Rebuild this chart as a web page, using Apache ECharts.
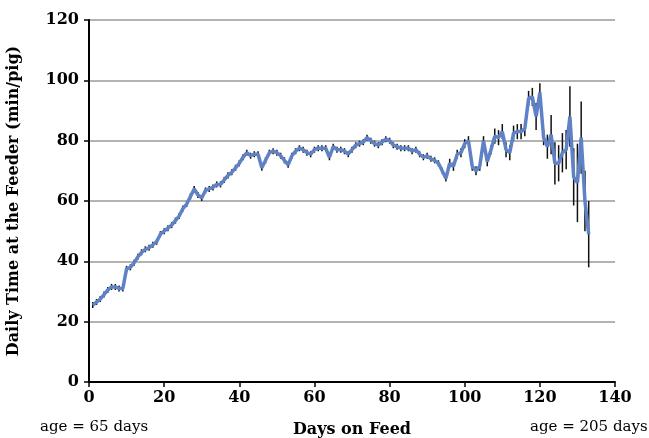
<!DOCTYPE html>
<html>
<head>
<meta charset="utf-8">
<script src="https://cdn.jsdelivr.net/npm/echarts@6/dist/echarts.min.js"></script>
<style>
  html, body { margin: 0; padding: 0; background: #fff; }
  #chart { width: 649px; height: 438px; }
</style>
</head>
<body>
<div id="chart"></div>
<script>
// Mean daily time at the feeder per pig, one value per day on feed (days 1-133)
const feederMinutes = [
  25.5, 26.5, 27.5, 29, 30.5, 31.5, 31.5, 31, 31, 37.5,
  38, 39.5, 41.5, 43, 44, 44.5, 45.5, 46.5, 49, 50,
  51, 52, 53.5, 55, 57.5, 59, 61.5, 64, 62, 61,
  63.5, 64, 64.5, 65.5, 65.5, 67, 68.5, 69.5, 71, 72.5,
  74.5, 76, 75, 75.5, 75.5, 71, 73.5, 76, 76.5, 76,
  75, 73.5, 72, 75, 76.5, 77.5, 77, 76, 75.5, 77,
  77.5, 77.5, 77.5, 74.5, 78, 77, 77, 76.5, 75.5, 77,
  78.5, 79, 79.5, 81, 80, 79, 78.5, 79.5, 80.5, 80,
  78.5, 78, 77.5, 77.5, 77.5, 76.5, 77, 75.5, 74.5, 75,
  74, 73.5, 72.5, 70, 67.5, 72.5, 71.5, 75.5, 76, 79,
  80, 71.5, 70, 71.5, 80, 73, 77, 81.5, 81, 83,
  77, 76, 82.5, 83, 83, 84, 94, 94.5, 88, 96,
  81, 78, 82, 72.5, 72.5, 76, 77, 88, 68, 66,
  81, 60, 49
];

// Standard error of each daily mean (half-length of the error bar)
const feederError = [
  1, 1, 1, 1, 1, 1, 1, 1, 1, 1,
  1, 1, 1, 1, 1, 1, 1, 1, 1, 1,
  1, 1, 1, 1, 1, 1, 1, 1, 1, 1,
  1, 1, 1, 1, 1, 1, 1, 1, 1, 1,
  1, 1, 1, 1, 1, 1, 1, 1, 1, 1,
  1, 1, 1, 1, 1, 1, 1, 1, 1, 1,
  1, 1, 1, 1, 1, 1, 1, 1, 1, 1,
  1, 1, 1, 1, 1, 1, 1, 1, 1, 1,
  1, 1, 1, 1, 1, 1, 1, 1, 1, 1,
  1, 1, 1, 1, 1, 1.5, 1.5, 1.5, 1.5, 1.5,
  1.5, 1.5, 1.5, 1.5, 1.5, 1.5, 1.5, 2.5, 2.5, 2.5,
  2.5, 2.5, 2.5, 2.5, 2.5, 2.5, 2.5, 3, 4.5, 3,
  2.5, 4, 6.5, 7, 6, 6.5, 6.5, 10, 9.5, 13,
  12, 10, 11
];

const xTicks = [0, 20, 40, 60, 80, 100, 120, 140];
const yTicks = [0, 20, 40, 60, 80, 100, 120];

const firstDay = 1;
const linePoints = feederMinutes.map((v, i) => [firstDay + i, v]);
const barPoints = feederMinutes.map((v, i) => [firstDay + i, v, feederError[i]]);

const serif = 'DejaVu Serif';

const chart = echarts.init(document.getElementById('chart'), null, { renderer: 'canvas' });

chart.setOption({
  animation: false,
  backgroundColor: '#ffffff',
  grid: { left: 89, right: 34, top: 20, bottom: 56, containLabel: false, outerBoundsMode: 'none' },
  xAxis: {
    type: 'value',
    min: xTicks[0],
    max: xTicks[xTicks.length - 1],
    interval: 20,
    name: 'Days on Feed',
    nameLocation: 'middle',
    nameGap: 40,
    nameTextStyle: { fontFamily: serif, fontWeight: 'bold', fontSize: 16, color: '#000' },
    axisLine: { lineStyle: { color: '#000', width: 2 } },
    axisTick: { show: true, length: 5, lineStyle: { color: '#000', width: 1.5 } },
    axisLabel: { fontFamily: serif, fontWeight: 'bold', fontSize: 16, color: '#000', margin: 8 },
    splitLine: { show: false }
  },
  yAxis: {
    type: 'value',
    min: yTicks[0],
    max: yTicks[yTicks.length - 1],
    interval: 20,
    name: 'Daily Time at the Feeder (min/pig)',
    nameLocation: 'middle',
    nameGap: 67,
    nameTextStyle: { fontFamily: serif, fontWeight: 'bold', fontSize: 16, color: '#000' },
    axisLine: { show: true, lineStyle: { color: '#000', width: 2 } },
    axisTick: { show: true, length: 5, lineStyle: { color: '#000', width: 1.5 } },
    axisLabel: { fontFamily: serif, fontWeight: 'bold', fontSize: 16, color: '#000', margin: 10 },
    splitLine: { show: true, lineStyle: { color: '#9a9a9a', width: 1.5 } }
  },
  graphic: [
    {
      type: 'text', left: 40, top: 420,
      style: { text: 'age = 65 days', fontFamily: serif, fontSize: 15, fill: '#000' }
    },
    {
      type: 'text', left: 530, top: 420,
      style: { text: 'age = 205 days', fontFamily: serif, fontSize: 15, fill: '#000' }
    }
  ],
  series: [
    {
      type: 'custom',
      name: 'error',
      z: 1,
      data: barPoints,
      encode: { x: 0, y: 1 },
      renderItem: function (params, api) {
        const x = api.value(0);
        const v = api.value(1);
        const e = api.value(2);
        const top = api.coord([x, v + e]);
        const bottom = api.coord([x, v - e]);
        return {
          type: 'line',
          shape: { x1: top[0], y1: top[1], x2: bottom[0], y2: bottom[1] },
          style: { stroke: '#111', lineWidth: 1.5 }
        };
      }
    },
    {
      type: 'line',
      name: 'time',
      z: 2,
      data: linePoints,
      showSymbol: false,
      symbol: 'none',
      lineStyle: { color: '#5F82C6', width: 3.5 }
    }
  ]
});
</script>
</body>
</html>
